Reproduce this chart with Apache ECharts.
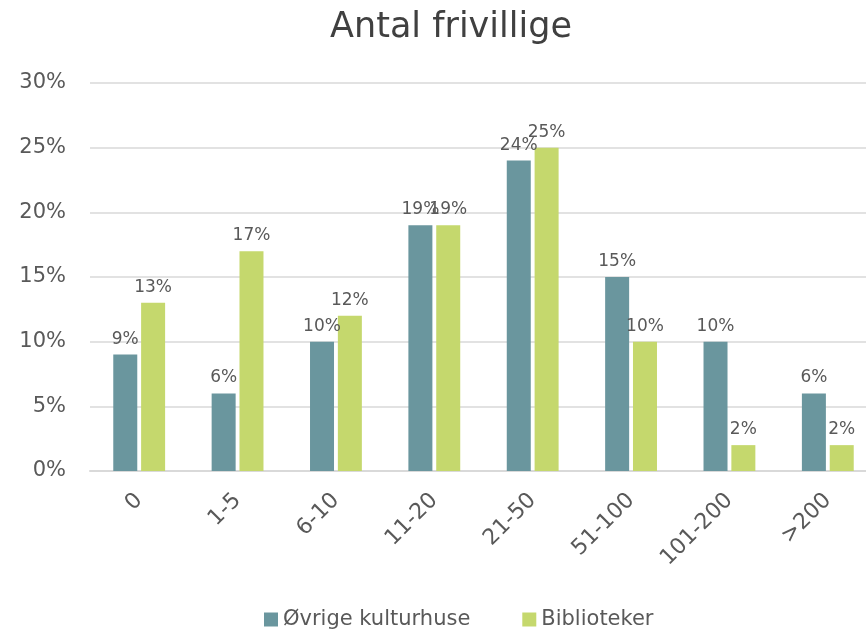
<!DOCTYPE html>
<html><head><meta charset="utf-8">
<script src="https://cdn.jsdelivr.net/npm/echarts@6/dist/echarts.min.js"></script>
<style>html,body{margin:0;padding:0;background:#fff}#c{width:866px;height:632px}</style>
</head><body><div id="c"></div>
<script>
const categories = ['0','1-5','6-10','11-20','21-50','51-100','101-200','>200'];
const kulturhuse = [9,6,10,19,24,15,10,6];
const biblioteker = [13,17,12,19,25,10,2,2];
const yTicks = [0,5,10,15,20,25,30];
const FONT = 'DejaVu Sans';
const chart = echarts.init(document.getElementById('c'));
const lbl = {show:true, position:'top', distance:7, color:'#595959', fontSize:17, fontFamily:FONT, formatter: p => p.value + '%'};
chart.setOption({
  animation:false,
  title:{text:'Antal frivillige', left:446, top:5, textAlign:'center',
    textStyle:{color:'#404040', fontSize:35, fontWeight:'normal', fontFamily:FONT}},
  legend:{bottom:-3, left:259, itemWidth:14, itemHeight:14, itemGap:52, icon:'rect',
    textStyle:{color:'#595959', fontSize:21, fontFamily:FONT}},
  grid:{left:90, top:83, width:787, height:388, containLabel:false, outerBoundsMode:'none'},
  xAxis:{type:'category', data:categories,
    axisLine:{lineStyle:{color:'#d9d9d9', width:2}}, axisTick:{show:false},
    axisLabel:{rotate:45, color:'#595959', fontSize:22, fontFamily:FONT, margin:26}},
  yAxis:{type:'value', min:0, max:30, interval:5,
    axisLabel:{formatter: v => v + '%', color:'#595959', fontSize:21, fontFamily:FONT, margin:24},
    splitLine:{lineStyle:{color:'#d9d9d9', width:1.5}}, axisLine:{show:false}, axisTick:{show:false}},
  series:[
    {name:'Øvrige kulturhuse', type:'bar', data:kulturhuse, barWidth:24, barGap:'16%',
      itemStyle:{color:'#6A969E'}, label:lbl},
    {name:'Biblioteker', type:'bar', data:biblioteker, barWidth:24, barGap:'16%',
      itemStyle:{color:'#C5D86D'}, label:lbl}
  ]
});
</script></body></html>
